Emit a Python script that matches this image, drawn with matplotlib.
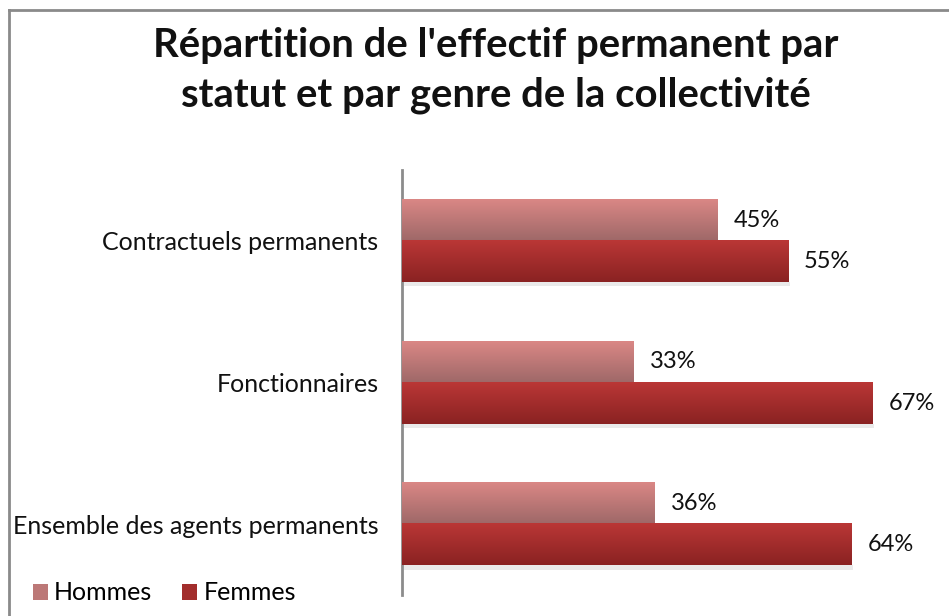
import numpy as np
import matplotlib.pyplot as plt
from matplotlib.patches import Patch
from matplotlib.lines import Line2D

plt.rcParams['font.family'] = ['Lato', 'DejaVu Sans']

# data
categories = ['Ensemble des agents permanents', 'Fonctionnaires', 'Contractuels permanents']
hommes = [36, 33, 45]
femmes = [64, 67, 55]
series_names = ['Hommes', 'Femmes']

# gradient colours (top -> bottom)
h_top, h_bot = np.array([0xda, 0x87, 0x85]) / 255, np.array([0x9e, 0x68, 0x68]) / 255
f_top, f_bot = np.array([0xba, 0x37, 0x36]) / 255, np.array([0x8a, 0x22, 0x22]) / 255

fig = plt.figure(figsize=(9.49, 6.16), dpi=100)
ax = fig.add_axes([402 / 949, 1 - 595 / 616, 1 - 402 / 949, (595 - 170) / 616])

bh = 0.29
y = np.arange(len(categories))


def grad_bar(x0, x1, y0, y1, ctop, cbot):
    t = np.linspace(0, 1, 64)[:, None]
    img = ctop[None, :] * (1 - t) + cbot[None, :] * t
    img = img[:, None, :]
    ax.imshow(img, extent=[x0, x1, y0, y1], origin='upper', aspect='auto',
              interpolation='bilinear', zorder=3)
    # soft shadow under the bar
    ax.fill_between([x0 + 0.3, x1 + 0.3], y0 - 0.03, y0, color='#dcdcdc', alpha=0.6, lw=0, zorder=2)


for i in y:
    # Hommes on top, Femmes below
    grad_bar(0, hommes[i], i, i + bh, h_top, h_bot)
    grad_bar(0, femmes[i], i - bh, i, f_top, f_bot)
    ax.annotate(f'{hommes[i]}%', (hommes[i], i + bh / 2), xytext=(16, 0), textcoords='offset pixels',
                va='center', ha='left', fontsize=17, color='#111111')
    ax.annotate(f'{femmes[i]}%', (femmes[i], i - bh / 2), xytext=(16, 0), textcoords='offset pixels',
                va='center', ha='left', fontsize=17, color='#111111')

ax.set_xlim(0, 547 / 7.02)
ax.set_ylim(-0.5, 2.5)
ax.set_yticks(y)
ax.set_yticklabels(categories, fontsize=18, color='#111111')
ax.tick_params(axis='y', length=0, pad=17)
ax.set_xticks([])
for s in ['top', 'right', 'bottom']:
    ax.spines[s].set_visible(False)
ax.spines['left'].set_color('#8c8c8c')
ax.spines['left'].set_linewidth(2)

fig.text(0.522, 1 - 45 / 616, "Répartition de l'effectif permanent par", ha='center', va='center',
         fontsize=28.8, fontweight='bold', color='#111111')
fig.text(0.522, 1 - 95 / 616, "statut et par genre de la collectivité", ha='center', va='center',
         fontsize=28.8, fontweight='bold', color='#111111')

handles = [Patch(facecolor=(h_top + h_bot) / 2, edgecolor='none'),
           Patch(facecolor=(f_top + f_bot) / 2, edgecolor='none')]
fig.legend(handles, series_names, loc='center left', bbox_to_anchor=(10 / 949, 1 - 593 / 616),
           ncol=2, frameon=False, fontsize=18, handlelength=0.6, handleheight=0.6,
           handletextpad=0.25, columnspacing=1.2)

# chart border (left and top visible)
fig.add_artist(Line2D([8.5 / 949, 8.5 / 949], [0, 1 - 9.5 / 616], color='#8a8a8a', lw=2))
fig.add_artist(Line2D([8.5 / 949, 1], [1 - 9.5 / 616, 1 - 9.5 / 616], color='#8a8a8a', lw=2))

fig.savefig('out.png', dpi=100)
